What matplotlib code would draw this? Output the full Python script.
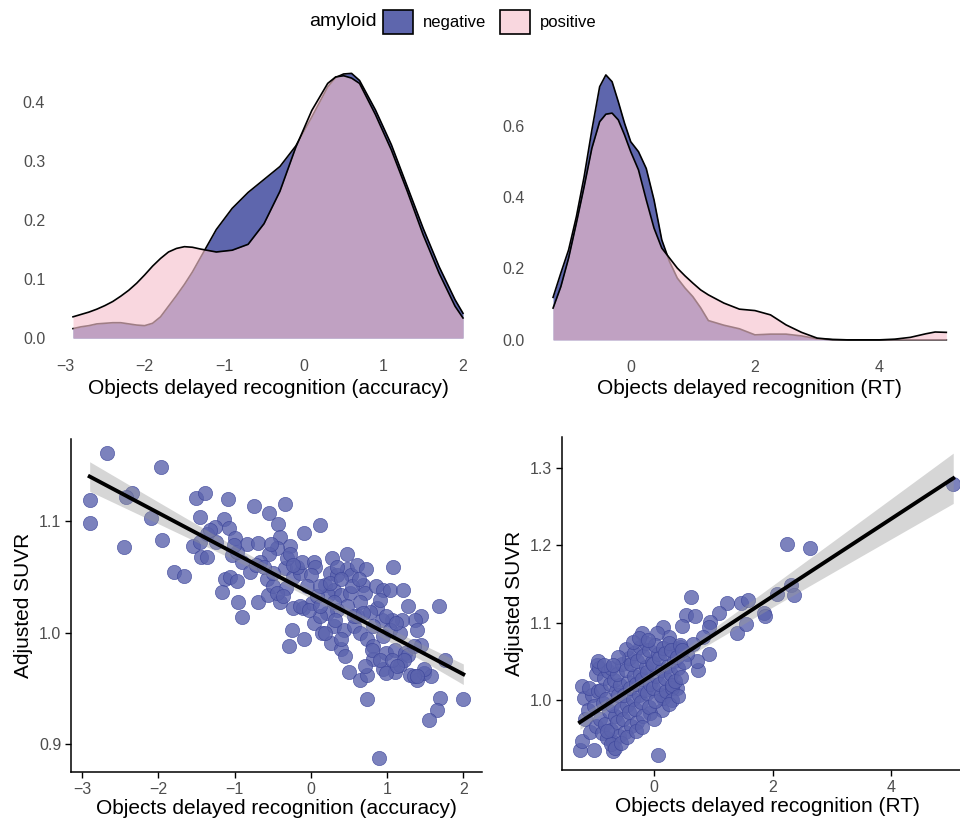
import numpy as np
import matplotlib
matplotlib.use("Agg")
import matplotlib.pyplot as plt
from matplotlib.patches import Patch

plt.rcParams['font.family'] = ['Liberation Sans', 'DejaVu Sans']

NEG = '#5E66AD'
POS = '#F6C2CE'
POS_KEY = '#F9D7DF'
DOT = '#5B63AD'
TICKC = '#4D4D4D'

# densities
acc_grid = [-2.9, -2.8, -2.7, -2.6, -2.5, -2.4, -2.3, -2.2, -2.1, -2.0, -1.9, -1.8, -1.7, -1.6,
            -1.5, -1.4, -1.3, -1.1, -0.9, -0.7, -0.5, -0.3, -0.1, 0.1, 0.3, 0.4, 0.5, 0.6,
            0.7, 0.9, 1.1, 1.3, 1.5, 1.7, 1.9, 2.0]
acc_neg = [0.016, 0.019, 0.021, 0.024, 0.025, 0.026, 0.026, 0.024, 0.022, 0.021, 0.025, 0.036, 0.054, 0.072,
           0.091, 0.112, 0.136, 0.184, 0.220, 0.247, 0.269, 0.291, 0.326, 0.375, 0.426, 0.442, 0.448, 0.449,
           0.437, 0.387, 0.328, 0.257, 0.186, 0.121, 0.065, 0.042]
acc_pos = [0.036, 0.040, 0.044, 0.049, 0.055, 0.062, 0.071, 0.081, 0.093, 0.107, 0.122, 0.135, 0.146, 0.152,
           0.155, 0.154, 0.151, 0.146, 0.149, 0.159, 0.194, 0.249, 0.324, 0.386, 0.432, 0.443, 0.445, 0.441,
           0.432, 0.379, 0.319, 0.249, 0.175, 0.110, 0.054, 0.034]

rt_grid = [-1.25, -1.125, -1.0, -0.875, -0.75, -0.625, -0.5, -0.4, -0.3, -0.2, -0.1, 0.0, 0.125,
           0.25, 0.375, 0.5, 0.625, 0.75, 0.875, 1.0, 1.125, 1.25, 1.5, 1.75, 2.0, 2.25, 2.5,
           2.75, 3.0, 3.25, 3.5, 3.75, 4.0, 4.25, 4.5, 4.75, 4.9, 5.08]
rt_neg = [0.119, 0.187, 0.252, 0.345, 0.457, 0.588, 0.709, 0.742, 0.723, 0.667, 0.607, 0.555, 0.527,
          0.480, 0.392, 0.280, 0.219, 0.173, 0.145, 0.121, 0.090, 0.054, 0.041, 0.031, 0.014, 0.016, 0.016,
          0.011, 0.003, 0.0005, 0, 0, 0, 0, 0, 0, 0, 0]
rt_pos = [0.089, 0.149, 0.229, 0.327, 0.429, 0.537, 0.611, 0.632, 0.635, 0.616, 0.574, 0.527, 0.476,
          0.392, 0.313, 0.257, 0.229, 0.201, 0.179, 0.159, 0.140, 0.126, 0.103, 0.086, 0.082, 0.070, 0.042,
          0.021, 0.005, 0.001, 0, 0, 0, 0.002, 0.007, 0.017, 0.022, 0.021]

# accuracy vs adjusted SUVR
acc_pts = np.array([
    (-2.67, 1.161), (-1.97, 1.149), (-2.90, 1.119), (-2.90, 1.099), (-2.45, 1.077), (-2.35, 1.126),
    (-2.42, 1.122), (-2.09, 1.103), (-1.95, 1.083), (-1.79, 1.055), (-1.66, 1.051), (-1.50, 1.121),
    (-1.39, 1.126), (-1.45, 1.104), (-1.08, 1.120), (-0.74, 1.114), (-0.55, 1.108), (-0.34, 1.116),
    (-0.43, 1.098), (-0.09, 1.090), (0.12, 1.097), (-1.14, 1.102), (-1.07, 1.094), (-1.25, 1.095),
    (-1.36, 1.089), (-1.00, 1.085), (-0.84, 1.080), (-0.69, 1.081), (-0.40, 1.086), (-0.27, 1.078),
    (-0.45, 1.076), (-0.55, 1.071), (-1.54, 1.078), (-1.45, 1.082), (-1.44, 1.068), (-1.36, 1.068),
    (-1.04, 1.070), (-0.90, 1.064), (-0.80, 1.055), (-0.58, 1.048), (-0.66, 1.064), (-1.12, 1.048),
    (-1.06, 1.050), (-0.97, 1.047), (-1.16, 1.037), (-0.95, 1.028), (-0.90, 1.014), (-0.69, 1.028),
    (-0.56, 1.034), (-0.49, 1.042), (-0.34, 1.058), (-0.23, 1.050), (-0.40, 1.028), (-0.32, 1.040),
    (-0.23, 1.022), (-0.14, 1.054), (-0.18, 1.059), (-0.12, 1.064), (0.04, 1.064), (0.06, 1.059),
    (0.00, 1.052), (-0.05, 1.042), (-0.10, 1.022), (0.01, 1.027), (0.04, 1.009), (-0.25, 1.003),
    (-0.28, 0.988), (-0.09, 0.995), (0.28, 1.067), (0.47, 1.071), (0.25, 1.054), (0.34, 1.052),
    (0.47, 1.057), (0.53, 1.052), (0.61, 1.061), (0.72, 1.057), (1.08, 1.059), (0.19, 1.043),
    (0.30, 1.039), (0.23, 1.034), (0.39, 1.034), (0.52, 1.036), (0.69, 1.043), (0.71, 1.036),
    (0.85, 1.042), (0.95, 1.039), (1.04, 1.039), (1.21, 1.039), (1.28, 1.024), (1.68, 1.024),
    (1.44, 1.015), (1.37, 1.012), (1.39, 1.003), (1.19, 1.012), (1.06, 1.012), (0.93, 1.012),
    (0.87, 1.022), (0.78, 1.019), (0.65, 1.028), (0.47, 1.024), (0.34, 1.021), (0.21, 1.018),
    (0.15, 1.000), (0.26, 0.991), (0.39, 0.986), (0.45, 0.979), (0.50, 0.965), (0.65, 0.958),
    (0.74, 0.962), (0.74, 0.941), (0.89, 0.888), (0.30, 1.006), (0.43, 1.003), (0.56, 1.006),
    (0.65, 1.000), (0.74, 0.995), (0.82, 0.988), (0.82, 0.977), (0.95, 0.968), (0.99, 0.982),
    (1.11, 0.965), (1.17, 0.971), (1.11, 0.985), (1.24, 0.982), (1.44, 0.989), (1.30, 0.962),
    (1.39, 0.958), (1.48, 0.964), (1.57, 0.961), (1.48, 0.968), (1.76, 0.976), (1.69, 0.942),
    (1.65, 0.931), (1.55, 0.922), (2.00, 0.941), (0.95, 0.997), (1.04, 1.003), (1.17, 1.000),
    (0.91, 1.030), (0.61, 1.015), (0.12, 1.015), (0.32, 1.012), (0.39, 0.995), (0.19, 1.000),
    (0.08, 1.033), (0.12, 1.042), (0.54, 1.042), (0.34, 1.059), (0.63, 1.048), (0.80, 0.985),
    (0.91, 0.976), (1.06, 0.976), (1.35, 0.988), (1.35, 0.961), (1.28, 0.980), (-0.72, 1.061),
    (-0.97, 1.073), (-1.24, 1.082), (-1.32, 1.092), (-1.01, 1.079), (-0.31, 1.067), (-0.27, 1.071),
    (-0.52, 1.080), (-0.45, 1.036), (-0.37, 1.033), (-0.49, 1.054), (-0.62, 1.059), (-0.23, 1.061),
    (-0.14, 1.024), (-0.03, 1.021), (0.12, 1.024), (0.25, 1.045), (0.40, 1.048), (0.30, 1.028),
    (0.56, 1.015), (0.69, 1.018), (0.82, 1.006), (0.99, 1.015), (1.12, 1.009), (1.22, 0.976),
    (0.71, 0.970), (0.98, 0.964), (1.13, 0.970), (1.39, 0.961),
])
acc_x, acc_y = acc_pts[:, 0], acc_pts[:, 1]

# RT vs adjusted SUVR
rt_pts = np.array([
    (5.05, 1.279), (2.25, 1.202), (2.63, 1.197), (2.07, 1.137), (2.32, 1.149), (2.36, 1.136),
    (1.85, 1.112), (1.87, 1.108), (1.40, 1.086), (1.55, 1.098), (1.47, 1.125), (1.59, 1.129),
    (1.23, 1.126), (1.10, 1.113), (0.95, 1.101), (0.92, 1.095), (0.83, 1.082), (0.92, 1.060),
    (0.75, 1.039), (0.72, 1.050), (0.62, 1.133), (0.54, 1.110), (0.69, 1.108), (0.47, 1.096),
    (0.15, 1.094), (0.26, 1.081), (0.05, 1.086), (-0.20, 1.087), (0.07, 0.929), (0.13, 0.987),
    (0.15, 1.003), (-0.06, 0.983), (-1.25, 0.935), (-1.02, 0.935), (-0.69, 0.934), (-1.22, 0.947),
    (-1.22, 1.018), (-1.18, 1.002), (-0.97, 1.045), (-0.98, 1.034), (-1.16, 0.976), (0.39, 1.015),
    (0.39, 1.066), (0.55, 1.060), (0.44, 1.069), (0.66, 1.073),
    (-1.08, 0.958), (-1.12, 0.987), (-1.05, 1.006), (-1.10, 1.016),
    (-0.98, 0.966), (-1.02, 0.992), (-0.95, 1.011), (-0.93, 1.041),
    (-0.88, 0.957), (-0.91, 0.976), (-0.86, 0.996), (-0.90, 1.013), (-0.84, 1.029),
    (-0.79, 0.951), (-0.82, 0.969), (-0.76, 0.986), (-0.81, 1.001), (-0.74, 1.021), (-0.78, 1.037),
    (-0.69, 0.946), (-0.72, 0.961), (-0.66, 0.979), (-0.71, 0.994), (-0.64, 1.011), (-0.68, 1.026),
    (-0.73, 1.041), (-0.59, 0.954), (-0.62, 0.971), (-0.56, 0.989), (-0.61, 1.006), (-0.57, 1.019),
    (-0.63, 1.033), (-0.54, 1.047), (-0.49, 0.959), (-0.52, 0.976), (-0.46, 0.993), (-0.51, 1.007),
    (-0.44, 1.023), (-0.48, 1.039), (-0.43, 1.054), (-0.47, 1.066), (-0.39, 0.966), (-0.42, 0.984),
    (-0.36, 1.001), (-0.41, 1.016), (-0.34, 1.031), (-0.38, 1.046), (-0.33, 1.061), (-0.29, 0.971),
    (-0.32, 0.989), (-0.26, 1.006), (-0.31, 1.021), (-0.24, 1.034), (-0.28, 1.051), (-0.23, 1.069),
    (-0.19, 0.979), (-0.22, 0.997), (-0.16, 1.013), (-0.21, 1.027), (-0.14, 1.043), (-0.18, 1.057),
    (-0.13, 1.074), (-0.09, 0.991), (-0.12, 1.009), (-0.06, 1.021), (-0.11, 1.036), (-0.04, 1.049),
    (-0.08, 1.064), (0.01, 0.999), (-0.02, 1.016), (0.04, 1.031), (-0.01, 1.046), (0.06, 1.059),
    (0.02, 1.071), (0.11, 1.006), (0.08, 1.021), (0.14, 1.039), (0.09, 1.054), (0.16, 1.067),
    (0.21, 1.011), (0.18, 1.029), (0.24, 1.044), (0.19, 1.061), (0.26, 1.074), (0.31, 1.016),
    (0.28, 1.034), (0.34, 1.051), (0.29, 1.064), (0.41, 1.041), (0.38, 1.056), (0.44, 1.071),
    (0.51, 1.049), (0.48, 1.064),
    (-0.72, 0.943), (-0.66, 0.938), (-0.80, 0.960), (-0.55, 0.945), (-0.45, 0.952), (-0.30, 0.960),
    (-0.20, 0.965), (0.00, 0.975), (-0.95, 1.050), (-0.85, 1.045), (-0.60, 1.055), (-0.70, 1.045),
    (-0.35, 1.075), (-0.25, 1.080), (-0.10, 1.078), (0.30, 1.020), (0.35, 1.025), (0.45, 1.030),
    (0.30, 1.000), (0.25, 0.995), (0.40, 1.005),
])
rt_x, rt_y = rt_pts[:, 0], rt_pts[:, 1]


def density(ax, grid, neg, pos):
    ax.fill_between(grid, 0, neg, color=NEG, lw=0, zorder=1)
    ax.plot(grid, neg, color='black', lw=1.2, zorder=2)
    ax.fill_between(grid, 0, pos, color=POS, alpha=0.65, lw=0, zorder=3)
    ax.plot(grid, pos, color='black', lw=1.2, zorder=4)
    for s in ax.spines.values():
        s.set_visible(False)
    ax.tick_params(length=0, pad=6, labelsize=11.5, labelcolor=TICKC)


def scatter_lm(ax, x, y):
    b1, b0 = np.polyfit(x, y, 1)
    xs = np.linspace(x.min(), x.max(), 100)
    fit = b0 + b1 * xs
    n = len(x)
    s = np.sqrt(np.sum((y - (b0 + b1 * x)) ** 2) / (n - 2))
    se = s * np.sqrt(1 / n + (xs - x.mean()) ** 2 / np.sum((x - x.mean()) ** 2))
    ax.scatter(x, y, s=105, facecolor=DOT, edgecolor='#3A4399', linewidth=0.5, alpha=0.8, zorder=2)
    ax.fill_between(xs, fit - 1.97 * se, fit + 1.97 * se, color='#999999', alpha=0.4, lw=0, zorder=3)
    ax.plot(xs, fit, color='black', lw=2.8, zorder=4)
    for side in ['top', 'right']:
        ax.spines[side].set_visible(False)
    for side in ['left', 'bottom']:
        ax.spines[side].set_linewidth(1.1)
    ax.tick_params(length=4, width=1.0, pad=3, labelsize=11.5, labelcolor=TICKC)
    ax.set_ylabel('Adjusted SUVR', fontsize=15, labelpad=4)


W, H = 960, 823
fig = plt.figure(figsize=(9.6, 8.23), dpi=100)


def box(l, r, t, b):
    return [l / W, 1 - b / H, (r - l) / W, (b - t) / H]


ax1 = fig.add_axes(box(53.5, 482.5, 61, 351))
density(ax1, acc_grid, acc_neg, acc_pos)
ax1.set_xlim(-3.145, 2.245)
ax1.set_ylim(-0.022, 0.470)
ax1.set_xticks([-3, -2, -1, 0, 1, 2])
ax1.set_yticks([0.0, 0.1, 0.2, 0.3, 0.4])
ax1.set_yticklabels(['0.0', '0.1', '0.2', '0.3', '0.4'])
ax1.set_xlabel('Objects delayed recognition (accuracy)', fontsize=15, labelpad=3)

ax2 = fig.add_axes(box(533, 966, 61, 352))
density(ax2, rt_grid, rt_neg, rt_pos)
ax2.set_xlim(-1.573, 5.397)
ax2.set_ylim(-0.034, 0.781)
ax2.set_xticks([0, 2, 4])
ax2.set_yticks([0.0, 0.2, 0.4, 0.6])
ax2.set_yticklabels(['0.0', '0.2', '0.4', '0.6'])
ax2.set_xlabel('Objects delayed recognition (RT)', fontsize=15, labelpad=3)

ax3 = fig.add_axes(box(71, 482, 439, 772))
scatter_lm(ax3, acc_x, acc_y)
ax3.set_xlim(-3.145, 2.245)
ax3.set_ylim(0.8753, 1.174)
ax3.set_xticks([-3, -2, -1, 0, 1, 2])
ax3.set_yticks([0.9, 1.0, 1.1])
ax3.set_xlabel('Objects delayed recognition (accuracy)', fontsize=15, labelpad=2)

ax4 = fig.add_axes(box(562, 972, 437, 770))
scatter_lm(ax4, rt_x, rt_y)
ax4.set_xlim(-1.553, 5.367)
ax4.set_ylim(0.9095, 1.340)
ax4.set_xticks([0, 2, 4])
ax4.set_yticks([1.0, 1.1, 1.2, 1.3])
ax4.set_xlabel('Objects delayed recognition (RT)', fontsize=15, labelpad=2)

handles = [Patch(facecolor=NEG, edgecolor='black', linewidth=1.2),
           Patch(facecolor=POS_KEY, edgecolor='black', linewidth=1.2)]
fig.legend(handles=handles, labels=['negative', 'positive'], ncol=2, frameon=False,
           loc='center left', bbox_to_anchor=(383 / W, 1 - 22 / H), fontsize=12,
           handlelength=1.8, handleheight=1.8, handletextpad=0.6, columnspacing=0.8,
           borderpad=0, borderaxespad=0)
fig.text(377 / W, 1 - 22 / H, 'amyloid', ha='right', va='center', fontsize=14)

fig.savefig('out.png', dpi=100)
